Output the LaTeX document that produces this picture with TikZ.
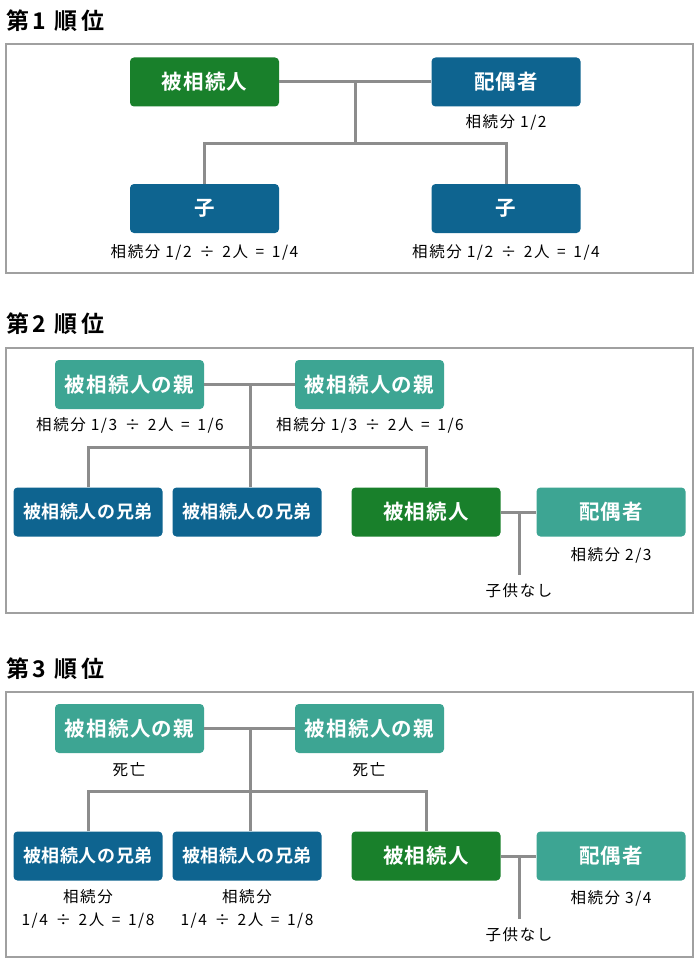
\documentclass[tikz,border=0pt]{standalone}
\usepackage{fontspec}
\setmainfont{Noto Sans CJK JP}[BoldFont={Noto Sans CJK JP Bold}]

\definecolor{gruen}{RGB}{25,128,43}
\definecolor{blau}{RGB}{14,100,144}
\definecolor{tuerkis}{RGB}{61,165,147}
\definecolor{liniengrau}{RGB}{140,140,140}
\definecolor{rahmengrau}{RGB}{160,160,160}

\newcommand{\rz}[1]{\,#1\,}

\begin{document}
\begin{tikzpicture}[x=1pt,y=-1pt,
    box/.style={rounded corners=4pt,minimum width=149pt,minimum height=49pt,inner sep=0pt,
        text=white,font=\bfseries\fontsize{20.5}{20}\selectfont\addfontfeature{LetterSpace=6}},
    klein/.style={font=\bfseries\fontsize{18}{18}\selectfont\addfontfeature{LetterSpace=3}},
    anteil/.style={align=center,inner sep=0pt,font=\fontsize{15.5}{23}\selectfont\addfontfeature{LetterSpace=10}},
    titel/.style={anchor=west,inner sep=0pt,font=\bfseries\fontsize{23}{22}\selectfont\addfontfeature{LetterSpace=15}},
    linie/.style={liniengrau,line width=3pt},
    rahmen/.style={rahmengrau,line width=2pt}]
        \fill[white] (0,0) rectangle (700,979);
        \useasboundingbox (0,0) rectangle (700,979);

        % Rahmen
        \foreach \o/\u in {44/273,348/613,692/957}
            \draw[rahmen] (6,\o) rectangle (693,\u);

        % Titel
        \node[titel] (titel1) at (6,21) {第1 順位};
        \node[titel] (titel2) at (6,324) {第2 順位};
        \node[titel] (titel3) at (6,669) {第3 順位};

        % Erster Rang
        \node[box,fill=gruen] (erb1) at (204.5,82) {被相続人};
        \node[box,fill=blau] (ehe1) at (506,82) {配偶者};
        \node[box,fill=blau] (kind1) at (204.5,208.5) {子};
        \node[box,fill=blau] (kind2) at (506,208.5) {子};
        \coordinate (j1) at (355,82);
        \coordinate (j2) at (355,143);
        \draw[linie] (erb1) -- (ehe1);
        \draw[linie] (j1) -- (j2);
        \draw[linie] (kind1) |- (j2) -| (kind2);
        \node[anteil] (a1) at (506,122) {相続分 1/2};
        \node[anteil] (a2) at (204.5,252) {相続分 1/2 \rz{÷} 2人 \rz{=} 1/4};
        \node[anteil] (a3) at (506,252) {相続分 1/2 \rz{÷} 2人 \rz{=} 1/4};

        % Zweiter und dritter Rang
        \foreach \n/\dy in {2/0,3/344} {
            \node[box,fill=tuerkis] (eltern\n-1) at (129.5, 384.5 + \dy) {被相続人の親};
            \node[box,fill=tuerkis] (eltern\n-2) at (369.5, 384.5 + \dy) {被相続人の親};
            \node[box,klein,fill=blau] (geschw\n-1) at (88, 512 + \dy) {被相続人の兄弟};
            \node[box,klein,fill=blau] (geschw\n-2) at (247, 512 + \dy) {被相続人の兄弟};
            \node[box,fill=gruen] (erb\n) at (426, 512 + \dy) {被相続人};
            \node[box,fill=tuerkis] (ehe\n) at (611, 512 + \dy) {配偶者};
            \coordinate (m\n-1) at (250, 384.5 + \dy);
            \coordinate (m\n-2) at (250, 447 + \dy);
            \coordinate (m\n-3) at (519, 512 + \dy);
            \coordinate (m\n-4) at (519, 575 + \dy);
            \draw[linie] (eltern\n-1) -- (eltern\n-2);
            \draw[linie] (m\n-1) -- (m\n-1 |- geschw\n-2.north);
            \draw[linie] (geschw\n-1) |- (m\n-2) -| (erb\n);
            \draw[linie] (erb\n) -- (ehe\n);
            \draw[linie] (m\n-3) -- (m\n-4);
            \node[anteil] (keine\n) at (519, 591 + \dy) {子供なし};
        }

        % Anteile
        \node[anteil] (b1) at (130,425) {相続分 1/3 \rz{÷} 2人 \rz{=} 1/6};
        \node[anteil] (b2) at (370,425) {相続分 1/3 \rz{÷} 2人 \rz{=} 1/6};
        \node[anteil] (b3) at (611,555) {相続分 2/3};
        \node[anteil] (c1) at (129,770) {死亡};
        \node[anteil] (c2) at (369,770) {死亡};
        \node[anteil] (c3) at (88,908.5) {相続分\\1/4 \rz{÷} 2人 \rz{=} 1/8};
        \node[anteil] (c4) at (247,908.5) {相続分\\1/4 \rz{÷} 2人 \rz{=} 1/8};
        \node[anteil] (c5) at (611,898) {相続分 3/4};
    \end{tikzpicture}
\end{document}
